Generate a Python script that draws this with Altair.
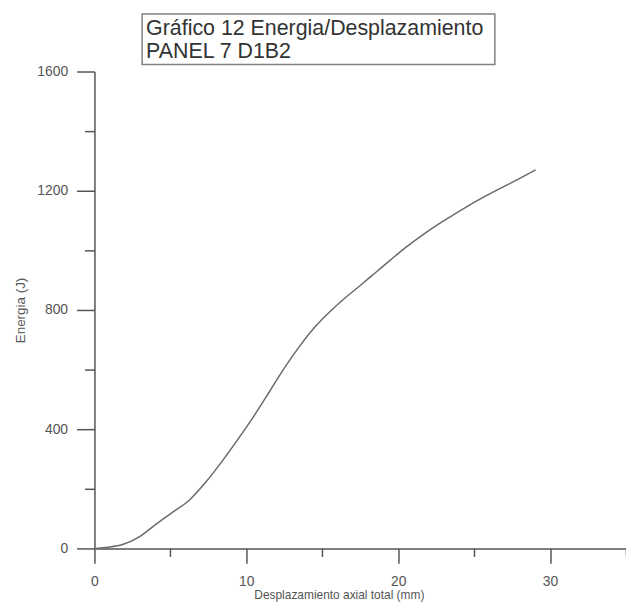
import altair as alt
import pandas as pd

# Data
desplazamiento = [0, 0.9, 1.85, 2.95, 4.04, 5.13, 6.22, 7.31, 8.4, 9.5, 10.5, 11.5,
                  12.5, 13.5, 14.5, 15.5, 16.5, 17.5, 18.5, 19.5, 20.5, 21.5,
                  22.5, 23.5, 24.5, 25.5, 26.5, 27.5, 29.05]
energia = [0, 4, 13, 39, 81, 121, 161, 221, 292, 370, 444, 524,
           605, 678, 742, 794, 840, 882, 925, 968, 1010, 1048,
           1083, 1115, 1146, 1175, 1202, 1228, 1270]

x_ticks = [0, 5, 10, 15, 20, 25, 30, 35]
y_ticks = [0, 200, 400, 600, 800, 1000, 1200, 1400, 1600]

title_line1 = "Gráfico 12 Energia/Desplazamiento"
title_line2 = "PANEL 7 D1B2"
x_title = "Desplazamiento axial total (mm)"
y_title = "Energia (J)"

df = pd.DataFrame({"x": desplazamiento, "y": energia})
FONT = "Liberation Sans"
AX = "#555555"

line = alt.Chart(df).mark_line(color="#6a6a6a", strokeWidth=1.5, interpolate="monotone").encode(
    x=alt.X("x:Q", scale=alt.Scale(domain=[0, 35], nice=False),
            axis=alt.Axis(values=x_ticks, title=x_title, format="d",
                          labelExpr="datum.value % 10 === 0 ? datum.label : ''",
                          tickSize={"condition": {"test": "datum.value % 10 === 0", "value": 15}, "value": 8},
                          labelPadding=11, labelFontSize=14,
                          titleX=246, titleY=50, titleAlign="center", titleBaseline="alphabetic",
                          titleFontSize=12)),
    y=alt.Y("y:Q", scale=alt.Scale(domain=[0, 1600], nice=False),
            axis=alt.Axis(values=y_ticks, title=y_title, format="d",
                          labelExpr="datum.value % 400 === 0 ? datum.label : ''",
                          tickSize={"condition": {"test": "datum.value % 400 === 0", "value": 18}, "value": 10},
                          labelPadding=9, labelFontSize=14,
                          titleX=-70, titleY=240, titleAngle=-90, titleAlign="center",
                          titleBaseline="alphabetic", titleFontSize=13.5)),
)

tdf = pd.DataFrame({"t": [title_line1]})
tdf2 = pd.DataFrame({"t": [title_line2]})
box = alt.Chart(tdf).mark_rect(fill="white", stroke="#808080", strokeWidth=1.5).encode(
    x=alt.value(48), x2=alt.value(403), y=alt.value(-58), y2=alt.value(-7)
)
text_style = dict(align="left", baseline="alphabetic", font=FONT, fontSize=21.5, color="#333333")
title_text1 = alt.Chart(tdf).mark_text(**text_style).encode(x=alt.value(52), y=alt.value(-37), text="t")
title_text2 = alt.Chart(tdf2).mark_text(**text_style).encode(x=alt.value(52), y=alt.value(-14), text="t")

chart = alt.layer(line, box, title_text1, title_text2).properties(
    width=535, height=480,
    autosize=alt.AutoSizeParams(type="none"),
    padding={"left": 87, "top": 62, "right": 0, "bottom": 52},
).configure_view(stroke=None).configure_axis(
    grid=False, labelFont=FONT, titleFont=FONT, labelColor=AX, titleColor=AX,
    titleFontWeight="normal", tickColor=AX, domainColor=AX, tickWidth=1.5, domainWidth=1.5,
    labelOverlap=False, labelFlush=False,
)

chart.save("out.html", embed_options={"renderer": "svg", "actions": False})
